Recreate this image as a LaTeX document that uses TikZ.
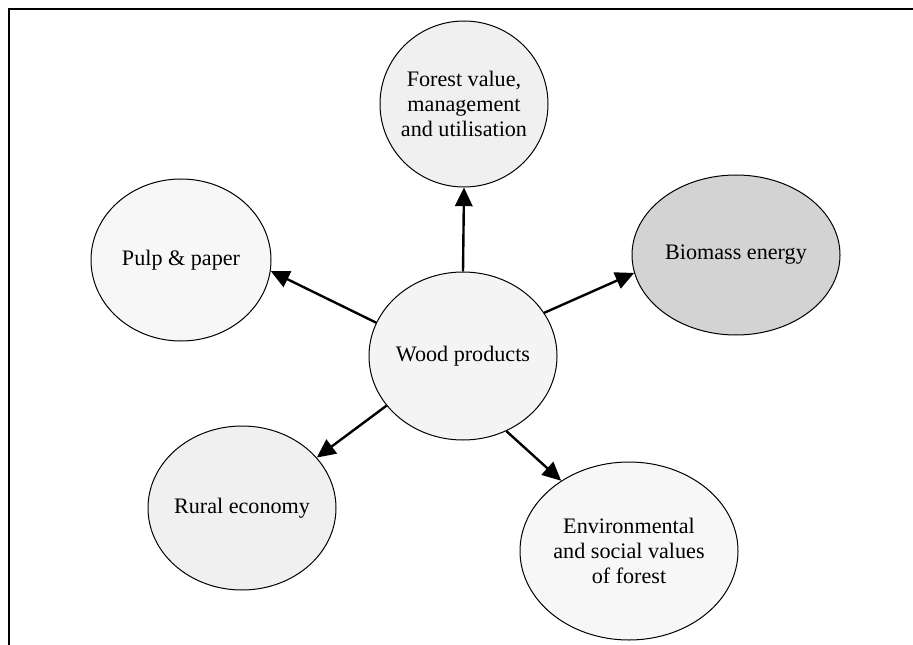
\documentclass[tikz,border=0pt]{standalone}
\usepackage{fontspec}
\setmainfont{Liberation Serif}
\usetikzlibrary{shapes.geometric,arrows.meta}

\definecolor{fillA}{RGB}{240,240,240}
\definecolor{fillB}{RGB}{247,247,247}
\definecolor{fillC}{RGB}{244,244,244}
\definecolor{fillD}{RGB}{211,211,211}

\tikzset{every picture/.style={line width=0.75pt}}
\tikzset{
  topic/.style={ellipse, draw, line width=0.75, inner sep=-4pt, align=center,
    font=\fontsize{16.6}{18.8}\selectfont},
  link/.style={line width=1.8, -{Triangle[length=14pt,width=13pt]}}
}

\begin{document}
\begin{tikzpicture}[x=0.75pt,y=0.75pt,yscale=-1,xscale=1]
\useasboundingbox (0,0) rectangle (913,645);

%Straight Lines [frame]
\draw [line width=1.5]    (9,645) -- (9,9) -- (913,9) ;

%Shape: Ellipse [wood]
\node [topic, fill=fillC, minimum width=141pt, minimum height=126pt] (wood) at (463,356) {Wood products};
%Shape: Ellipse [forest]
\node [topic, fill=fillA, minimum width=126pt, minimum height=124.5pt] (forest) at (464,104) {Forest value,\\management\\and utilisation};
%Shape: Ellipse [biomass]
\node [topic, fill=fillD, minimum width=156pt, minimum height=120pt] (biomass) at (736,255) {Biomass energy};
%Shape: Ellipse [pulp]
\node [topic, fill=fillB, minimum width=135pt, minimum height=121.5pt] (pulp) at (181,260) {Pulp \& paper};
%Shape: Ellipse [rural]
\node [topic, fill=fillA, minimum width=141pt, minimum height=123pt] (rural) at (242,508) {Rural economy};
%Shape: Ellipse [env]
\node [topic, fill=fillB, minimum width=163.5pt, minimum height=133.5pt] (env) at (629,551) {Environmental\\and social values\\of forest};

%Straight Lines [arrows]
\draw [link]    (wood.90) -- (forest.-90) ;
\draw [link]    (wood.159) -- (pulp.-7) ;
\draw [link]    (wood.28) -- (biomass.190) ;
\draw [link]    (wood.213) -- (rural.34) ;
\draw [link]    (wood.-60) -- (env.134) ;

\end{tikzpicture}
\end{document}
